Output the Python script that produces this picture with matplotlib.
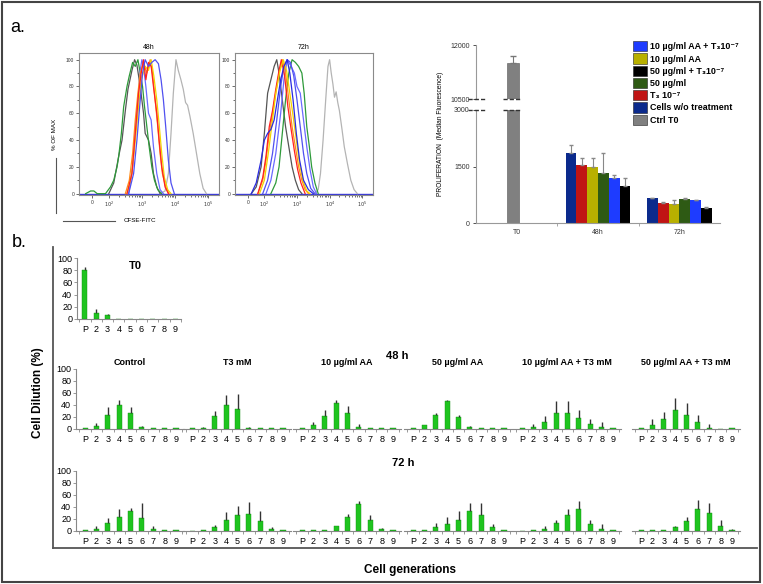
import numpy as np
import matplotlib
matplotlib.use("Agg")
import matplotlib.pyplot as plt
from matplotlib import font_manager
from matplotlib.lines import Line2D
from matplotlib.patches import Rectangle, Patch

plt.rcParams['font.family'] = ['Liberation Sans', 'DejaVu Sans']
_names = {f.name for f in font_manager.fontManager.ttflist}
NARROW = 'Liberation Sans Narrow' if 'Liberation Sans Narrow' in _names else 'Liberation Sans'

W, H = 763, 584

# ---------------- panel a: CFSE histograms (x = log10 decades, y = % of max)
h48_ctrl_t0 = [(3.55, 0), (3.7, 2), (3.8, 15), (3.88, 45), (3.95, 75), (4.03, 100), (4.1, 92), (4.18, 85),
               (4.25, 78), (4.32, 68), (4.38, 66), (4.45, 58), (4.55, 45), (4.65, 30), (4.75, 15), (4.85, 4), (4.95, 0)]
h48_green = [(1.3, 0), (1.45, 2), (1.55, 2), (1.65, 0), (1.9, 0), (2.05, 5), (2.15, 10), (2.25, 20), (2.3, 28),
             (2.38, 45), (2.45, 65), (2.55, 80), (2.62, 88), (2.72, 98), (2.8, 95), (2.88, 100), (2.95, 90),
             (3.02, 80), (3.08, 65), (3.15, 50), (3.22, 35), (3.3, 20), (3.38, 10), (3.48, 3), (3.6, 0)]
h48_dark = [(2.0, 0), (2.15, 8), (2.3, 28), (2.4, 40), (2.5, 62), (2.58, 78), (2.7, 92), (2.78, 100), (2.85, 96),
            (2.95, 80), (3.05, 60), (3.1, 45), (3.2, 40), (3.28, 30), (3.35, 15), (3.45, 5), (3.55, 0)]
h48_orange = [(2.5, 0), (2.62, 10), (2.72, 30), (2.8, 55), (2.88, 75), (2.95, 90), (3.05, 98), (3.15, 90),
              (3.25, 100), (3.32, 90), (3.4, 70), (3.48, 50), (3.55, 30), (3.62, 15), (3.72, 5), (3.82, 0)]
h48_yellow = [(2.55, 0), (2.68, 12), (2.78, 35), (2.88, 60), (2.98, 85), (3.1, 95), (3.2, 92), (3.28, 100),
              (3.36, 88), (3.45, 70), (3.52, 52), (3.6, 30), (3.68, 12), (3.78, 3), (3.88, 0)]
h48_red = [(2.55, 0), (2.7, 15), (2.8, 45), (2.9, 75), (2.98, 90), (3.05, 100), (3.12, 85), (3.2, 98),
           (3.28, 95), (3.35, 80), (3.45, 60), (3.52, 40), (3.6, 20), (3.7, 5), (3.8, 0)]
h48_blue_a = [(2.6, 0), (2.75, 15), (2.85, 40), (2.95, 70), (3.02, 90), (3.1, 100), (3.2, 95), (3.3, 98),
              (3.4, 100), (3.5, 97), (3.58, 85), (3.65, 70), (3.72, 50), (3.8, 25), (3.88, 8), (3.98, 0)]
h48_blue_b = [(2.6, 0), (2.72, 20), (2.8, 45), (2.88, 70), (2.95, 92), (3.0, 100), (3.05, 95), (3.12, 80),
              (3.2, 60), (3.28, 55), (3.35, 35), (3.45, 15), (3.55, 3), (3.65, 0)]

h72_ctrl_t0 = [(3.55, 0), (3.65, 3), (3.72, 15), (3.8, 40), (3.88, 70), (3.95, 95), (4.0, 100), (4.05, 90),
               (4.1, 82), (4.15, 72), (4.2, 76), (4.25, 68), (4.3, 62), (4.38, 48), (4.45, 35), (4.55, 22),
               (4.65, 10), (4.75, 3), (4.85, 0)]
h72_dark = [(1.6, 0), (1.75, 5), (1.9, 20), (2.0, 45), (2.1, 75), (2.2, 85), (2.3, 95), (2.38, 100), (2.45, 90),
            (2.55, 70), (2.65, 50), (2.75, 35), (2.85, 20), (2.95, 10), (3.05, 3), (3.15, 0)]
h72_blue_a = [(1.6, 0), (1.75, 8), (1.9, 25), (2.0, 40), (2.1, 45), (2.2, 48), (2.3, 55), (2.4, 70), (2.5, 85),
              (2.6, 95), (2.7, 100), (2.78, 90), (2.88, 70), (2.98, 45), (3.08, 25), (3.2, 10), (3.35, 3), (3.5, 0)]
h72_orange = [(1.8, 0), (1.95, 10), (2.05, 25), (2.15, 45), (2.25, 60), (2.35, 75), (2.45, 90), (2.55, 100),
              (2.65, 90), (2.75, 70), (2.85, 50), (2.95, 35), (3.05, 20), (3.15, 10), (3.25, 3), (3.35, 0)]
h72_red = [(1.8, 0), (1.95, 12), (2.05, 28), (2.15, 50), (2.25, 62), (2.35, 78), (2.45, 92), (2.52, 100),
           (2.62, 88), (2.72, 65), (2.82, 48), (2.92, 32), (3.02, 18), (3.12, 8), (3.25, 0)]
h72_yellow = [(1.85, 0), (2.0, 10), (2.12, 30), (2.25, 55), (2.35, 75), (2.48, 92), (2.58, 100), (2.68, 92),
              (2.78, 75), (2.88, 58), (2.98, 40), (3.08, 22), (3.18, 10), (3.3, 2), (3.4, 0)]
h72_blue_b = [(1.95, 0), (2.1, 10), (2.25, 30), (2.38, 55), (2.5, 80), (2.6, 95), (2.7, 100), (2.8, 98),
              (2.9, 88), (3.0, 70), (3.1, 50), (3.2, 30), (3.3, 15), (3.42, 4), (3.55, 0)]
h72_blue_c = [(2.05, 0), (2.2, 10), (2.35, 30), (2.5, 60), (2.6, 85), (2.7, 100), (2.82, 95), (2.92, 90),
              (3.0, 80), (3.1, 75), (3.2, 55), (3.3, 35), (3.4, 18), (3.5, 5), (3.6, 0)]
h72_green = [(2.2, 0), (2.35, 8), (2.45, 20), (2.55, 45), (2.65, 70), (2.75, 90), (2.85, 100), (2.95, 98),
             (3.05, 95), (3.15, 90), (3.22, 75), (3.3, 50), (3.38, 35), (3.45, 20), (3.55, 8), (3.65, 0)]

hist_ticks = [1.5, 2, 3, 4, 5]
hist_ticklabels = ['0', '$10^2$', '$10^3$', '$10^4$', '$10^5$']

# ---------------- panel a: proliferation bar chart
prolif_groups = ['T0', '48h', '72h']
prolif_series = ['Cells w/o treatment', 'T\u2083 10\u207b\u2077', '10 \u00b5g/ml AA', '50 \u00b5g/ml',
                 '10 \u00b5g/ml AA + T\u208310\u207b\u2077', '50 \u00b5g/ml + T\u208310\u207b\u2077']
prolif_48h = [1850, 1540, 1490, 1330, 1190, 980]
prolif_48h_err = [220, 180, 230, 520, 80, 210]
prolif_72h = [660, 530, 500, 640, 610, 400]
prolif_72h_err = [10, 20, 110, 20, 10, 20]
ctrl_t0 = 11500
ctrl_t0_err = 200

# ---------------- panel b: cell dilution per generation (%)
generations = ['P', '2', '3', '4', '5', '6', '7', '8', '9']
conditions = ['Control', 'T3 mM', '10 \u00b5g/ml AA', '50 \u00b5g/ml AA',
              '10 \u00b5g/ml AA + T3 mM', '50 \u00b5g/ml AA + T3 mM']

t0_dil = [80, 10, 7, 0, 0, 0, 0, 0, 0]
t0_err = [6, 7, 0.5, 0, 0, 0, 0, 0, 0]

d48_control = [1, 5, 23, 40, 26, 3, 1, 1, 1]
e48_control = [0, 5, 14, 9, 10, 2, 0, 0, 0]
d48_t3 = [1, 2, 22, 40, 33, 2, 1, 1, 1]
e48_t3 = [0, 1, 8, 16, 25, 2, 0, 0, 0]
d48_aa10 = [1, 6, 21, 43, 26, 4, 1, 1, 1]
e48_aa10 = [0, 5, 10, 5, 13, 4, 0, 0, 0]
d48_aa50 = [1, 7, 23, 46, 20, 3, 1, 1, 1]
e48_aa50 = [0, 0, 3, 2, 4, 2, 0, 0, 0]
d48_aa10_t3 = [1, 3, 11, 27, 26, 18, 8, 4, 1]
e48_aa10_t3 = [0, 6, 11, 20, 20, 13, 9, 7, 0]
d48_aa50_t3 = [1, 7, 17, 32, 24, 12, 2, 0, 1]
e48_aa50_t3 = [0, 9, 11, 19, 19, 11, 6, 0, 0]

d72_control = [1, 4, 14, 24, 33, 22, 3, 1, 1]
e72_control = [0, 5, 8, 12, 5, 24, 5, 0, 0]
d72_t3 = [0, 1, 6, 18, 27, 28, 16, 3, 1]
e72_t3 = [0, 0, 4, 14, 15, 20, 17, 4, 0]
d72_aa10 = [1, 1, 1, 8, 23, 45, 19, 4, 1]
e72_aa10 = [0, 0, 0, 1, 5, 5, 8, 1, 0]
d72_aa50 = [1, 1, 6, 11, 19, 33, 26, 6, 1]
e72_aa50 = [0, 0, 7, 12, 14, 13, 20, 5, 0]
d72_aa10_t3 = [0, 1, 4, 14, 27, 37, 11, 4, 1]
e72_aa10_t3 = [0, 0, 4, 5, 9, 13, 8, 8, 0]
d72_aa50_t3 = [1, 1, 1, 6, 16, 37, 30, 9, 2]
e72_aa50_t3 = [0, 0, 0, 3, 8, 15, 16, 10, 2]


def add_ax(l, t, r, b):
    # axes from pixel box (left, top, right, bottom)
    return fig.add_axes([l / W, 1 - b / H, (r - l) / W, (b - t) / H])


def fx(x):
    return x / W


def fy(y):
    return 1 - y / H


fig = plt.figure(figsize=(W / 100, H / 100), dpi=100)

# outer frame
fig.add_artist(Rectangle((fx(2), fy(582)), fx(758), (580) / H, fill=False, ec='#444444', lw=1.5))
fig.text(fx(10), fy(28), 'a.', fontsize=13, va='center')
fig.text(fx(12), fy(243), 'b.', fontsize=13, va='center')

# ---- histograms
hist_sets = [
    ('48h', 79, 219, [(h48_ctrl_t0, '#b4b4b4'), (h48_dark, '#555555'), (h48_green, '#2e9a3a'),
                      (h48_blue_b, '#6a6aff'), (h48_orange, '#ff8c1a'), (h48_yellow, '#f2d400'),
                      (h48_red, '#ff2020'), (h48_blue_a, '#5050f0')]),
    ('72h', 235, 373, [(h72_ctrl_t0, '#b4b4b4'), (h72_dark, '#555555'), (h72_green, '#2e9a3a'),
                       (h72_blue_c, '#6a6aff'), (h72_blue_b, '#5050f0'), (h72_orange, '#ff8c1a'),
                       (h72_red, '#ff2020'), (h72_yellow, '#f2d400'), (h72_blue_a, '#2a2ae0')]),
]
for title, l, r, curves in hist_sets:
    ax = add_ax(l, 53, r, 195)
    ax.axhline(0, color='#3a3ad8', lw=1.0)
    for pts, col in curves:
        xs, ys = zip(*pts)
        ax.plot(xs, ys, color=col, lw=0.9)
    ax.set_xlim(1.1, 5.33)
    ax.set_ylim(-1, 105)
    ax.set_xticks(hist_ticks)
    ax.set_xticklabels(hist_ticklabels)
    minor = [np.log10(k) + d for d in (2, 3, 4) for k in range(2, 10)]
    ax.set_xticks(minor, minor=True)
    ax.set_yticks([0, 20, 40, 60, 80, 100])
    ax.set_yticks([10, 30, 50, 70, 90], minor=True)
    ax.tick_params(labelsize=3.5, length=2, width=0.5, pad=1.5, colors='#333333')
    ax.tick_params(which='minor', length=1.2, width=0.4)
    for s in ax.spines.values():
        s.set_color('#8a8a8a')
        s.set_linewidth(0.8)
    ax.set_title(title, fontsize=5, pad=3)

fig.add_artist(Line2D([fx(56), fx(56)], [fy(158), fy(213)], color='#555555', lw=0.8))
fig.add_artist(Line2D([fx(63), fx(115)], [fy(221), fy(221)], color='#555555', lw=0.8))
fig.text(fx(54), fy(134), '% OF MAX', rotation=90, fontsize=4.5, ha='center', va='center')
fig.text(fx(140), fy(221), 'CFSE-FITC', fontsize=4.5, ha='center', va='center')

# ---- proliferation bar chart (broken y axis)
colors6 = ['#0b2a8c', '#c01414', '#b8b000', '#2e5a14', '#1e3cff', '#000000']
ax_lo = add_ax(476, 110, 720, 223)
ax_hi = add_ax(476, 45, 720, 99)
xg = np.arange(len(prolif_groups))
bw = 0.133
for axb in (ax_lo, ax_hi):
    axb.bar(xg[0] - 0.05, ctrl_t0, width=0.148, color='#808080', edgecolor='#555555', lw=0.4)
    axb.errorbar(xg[0] - 0.05, ctrl_t0, yerr=[[0], [ctrl_t0_err]], fmt='none', ecolor='#777777',
                 elinewidth=0.8, capsize=2)
    for i in range(6):
        pos = xg[1:] + (i - 2.5) * bw
        vals = [prolif_48h[i], prolif_72h[i]]
        errs = [prolif_48h_err[i], prolif_72h_err[i]]
        axb.bar(pos, vals, width=bw, color=colors6[i], edgecolor='none')
        axb.errorbar(pos, vals, yerr=[[0, 0], errs], fmt='none', ecolor='#888888', elinewidth=0.8, capsize=1.5)
    axb.set_xlim(-0.5, 2.5)
    for s in ('top', 'right'):
        axb.spines[s].set_visible(False)
    axb.spines['left'].set_color('#999999')
    axb.spines['bottom'].set_color('#999999')
    axb.tick_params(labelsize=5, length=2.5, width=0.6, colors='#333333', pad=2)
ax_lo.set_ylim(0, 3000)
ax_lo.set_yticks([0, 1500, 3000])
ax_lo.set_xticks(xg)
ax_lo.set_xticklabels(prolif_groups)
ax_lo.tick_params(axis='x', length=0, pad=4)
ax_lo.set_xticks([0.5, 1.5], minor=True)
ax_lo.tick_params(axis='x', which='minor', length=2, color='#999999')
ax_hi.set_ylim(10500, 12000)
ax_hi.set_yticks([10500, 12000])
ax_hi.spines['bottom'].set_visible(False)
ax_hi.set_xticks([])
for yb in (99, 110):
    fig.add_artist(Line2D([fx(468), fx(486)], [fy(yb), fy(yb)], color='#333333', lw=1.0, ls=(0, (3, 1.5))))
    fig.add_artist(Line2D([fx(503), fx(521)], [fy(yb), fy(yb)], color='#333333', lw=1.0, ls=(0, (3, 1.5))))
fig.text(fx(441), fy(134), 'PROLIFERATION  (Median Fluorescence)', rotation=90, fontsize=4.8,
         ha='center', va='center')

legend_order = [4, 2, 5, 3, 1, 0]
handles = [Patch(facecolor=colors6[i], edgecolor='#222222', lw=0.4) for i in legend_order]
labels = [prolif_series[i] for i in legend_order]
handles.append(Patch(facecolor='#808080', edgecolor='#222222', lw=0.4))
labels.append('Ctrl T0')
fig.legend(handles, labels, loc='upper left', bbox_to_anchor=(fx(627), fy(35)), frameon=False,
           prop={'family': [NARROW, 'DejaVu Sans'], 'weight': 'bold', 'size': 6.4},
           handlelength=1.5, handleheight=1.4, labelspacing=0.22, handletextpad=0.4, borderpad=0.2)

# ---- panel b
fig.add_artist(Line2D([fx(53), fx(53)], [fy(247), fy(548)], color='#555555', lw=1.3))
fig.add_artist(Line2D([fx(53), fx(757)], [fy(548), fy(548)], color='#555555', lw=1.3))
fig.text(fx(38), fy(393), 'Cell Dilution (%)', rotation=90, fontsize=8.5, fontweight='bold',
         family=[NARROW, 'DejaVu Sans'], ha='center', va='center')
fig.text(fx(410), fy(570), 'Cell generations', fontsize=8.5, fontweight='bold',
         family=[NARROW, 'DejaVu Sans'], ha='center', va='center')

xgen = np.arange(len(generations))


def gen_panel(ax, vals, errs, first):
    ax.bar(xgen, vals, width=0.45, color='#1fc41f', edgecolor='#139013', lw=0.3)
    e = np.array(errs, dtype=float)
    m = e > 0
    ax.errorbar(xgen[m], np.array(vals)[m], yerr=[np.zeros(m.sum()), e[m]], fmt='none',
                ecolor='#333333', elinewidth=1.0, capsize=0)
    ax.set_xlim(-0.8, 8.7)
    ax.set_ylim(0, 100)
    ax.set_xticks(xgen)
    ax.set_xticklabels(generations)
    ax.set_xticks(np.arange(-0.5, 9, 1), minor=True)
    ax.tick_params(axis='x', length=0, labelsize=6.5, pad=4)
    ax.tick_params(axis='x', which='minor', length=2, width=0.6, color='#888888')
    for s in ('top', 'right'):
        ax.spines[s].set_visible(False)
    ax.spines['bottom'].set_color('#888888')
    ax.spines['left'].set_color('#888888')
    if first:
        ax.set_yticks([0, 20, 40, 60, 80, 100])
        ax.tick_params(axis='y', labelsize=6.5, length=2, width=0.6, color='#888888', pad=1.5)
    else:
        ax.spines['left'].set_visible(False)
        ax.set_yticks([])
    ax.patch.set_alpha(0)


ax_t0 = add_ax(77, 258, 181, 319)
gen_panel(ax_t0, t0_dil, t0_err, True)
ax_t0.set_xlim(-0.7, 8.5)
fig.text(fx(135), fy(266), 'T0', fontsize=8, fontweight='bold', family=[NARROW, 'DejaVu Sans'],
         ha='center', va='center')

rows = [
    ('48 h', 369, 429, 356, 397, [(d48_control, e48_control), (d48_t3, e48_t3), (d48_aa10, e48_aa10),
                                 (d48_aa50, e48_aa50), (d48_aa10_t3, e48_aa10_t3), (d48_aa50_t3, e48_aa50_t3)]),
    ('72 h', 471, 531, 463, 403, [(d72_control, e72_control), (d72_t3, e72_t3), (d72_aa10, e72_aa10),
                                 (d72_aa50, e72_aa50), (d72_aa10_t3, e72_aa10_t3), (d72_aa50_t3, e72_aa50_t3)]),
]
lefts = [76, 183, 293, 404, 513, 632]
for label, top, bot, ly, lx, data in rows:
    fig.text(fx(lx), fy(ly), label, fontsize=8, fontweight='bold', family=[NARROW, 'DejaVu Sans'],
             ha='center', va='center')
    for j, (vals, errs) in enumerate(data):
        ax = add_ax(lefts[j], top, lefts[j] + 108, bot)
        gen_panel(ax, vals, errs, j == 0)
        if label == '48 h':
            ax.set_title(conditions[j], fontsize=6.5, fontweight='bold', family=[NARROW, 'DejaVu Sans'], pad=3)

fig.savefig('out.png', dpi=100)
